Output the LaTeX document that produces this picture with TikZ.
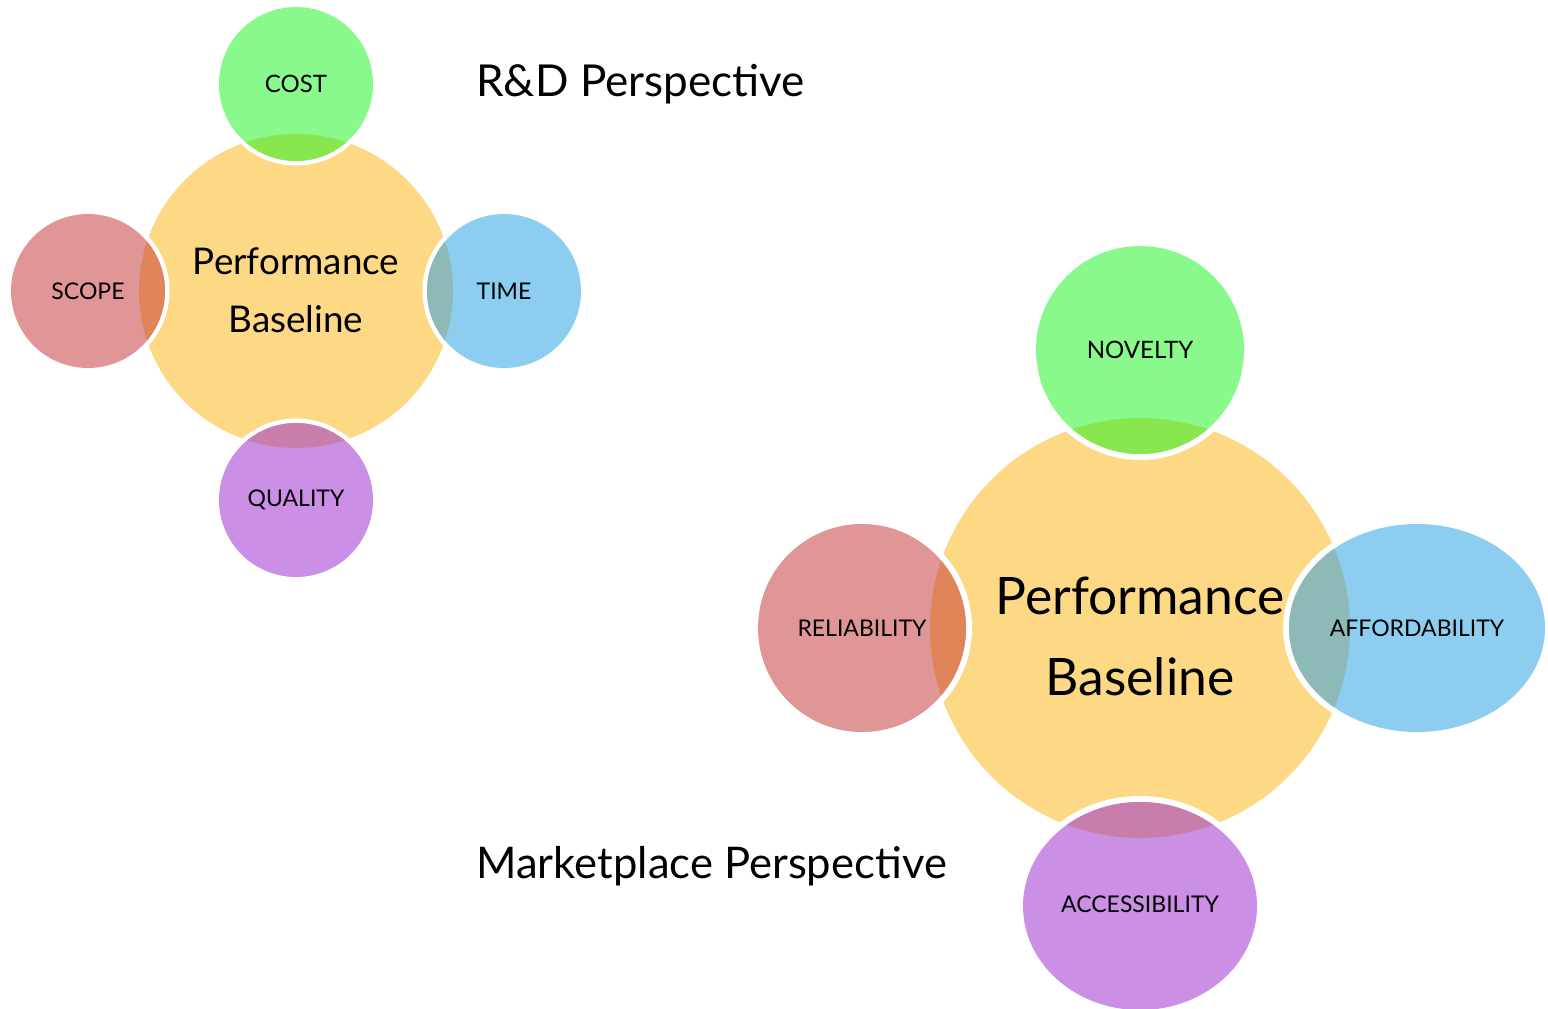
\documentclass[tikz,border=0pt]{standalone}
\usepackage{fontspec}
\setmainfont{Lato}
\definecolor{cYel}{HTML}{FDD985}
\definecolor{cGrn}{HTML}{89F98B}
\definecolor{cGrnO}{HTML}{88E64F}
\definecolor{cRed}{HTML}{E09696}
\definecolor{cRedO}{HTML}{E0845A}
\definecolor{cBlu}{HTML}{8CCDF0}
\definecolor{cBluO}{HTML}{8DBAB6}
\definecolor{cPur}{HTML}{CB90E6}
\definecolor{cPurO}{HTML}{C97DAB}
% #1 cx, #2 cy, #3 rx, #4 ry, #5 fill, #6 overlap colour, #7 ring, #8 yellow cx, #9 yellow cy, radius via \yr
\newcommand{\mysat}[9]{%
  \fill[white] (#1,#2) ellipse [x radius={#3+#7}, y radius={#4+#7}];
  \fill[#5] (#1,#2) ellipse [x radius=#3, y radius=#4];
  \begin{scope}
    \clip (#8,#9) circle [radius=\yr];
    \fill[#6] (#1,#2) ellipse [x radius=#3, y radius=#4];
  \end{scope}}
\tikzset{
  lbl/.style={font=\fontsize{11.5}{14}\selectfont, inner sep=0pt},
  lblw/.style={font=\fontsize{12}{14}\selectfont, inner sep=0pt},
  pbsmall/.style={font=\fontsize{18.4}{22}\selectfont, anchor=base, inner sep=0pt},
  pbbig/.style={font=\fontsize{25.8}{30}\selectfont, anchor=base, inner sep=0pt},
  title/.style={font=\fontsize{22}{26}\selectfont, anchor=base west, inner sep=0pt}
}
\begin{document}
\begin{tikzpicture}[x=0.5pt,y=-0.5pt]
\useasboundingbox (0,0) rectangle (1548,1008);
% ---------- left cluster ----------
\def\yr{157}
\fill[cYel] (296,291) circle [radius=157];
\mysat{296}{84}{77}{77}{cGrn}{cGrnO}{4.5}{296}{291}
\mysat{88}{291}{77}{77}{cRed}{cRedO}{4.5}{296}{291}
\mysat{504}{291}{77}{77}{cBlu}{cBluO}{4.5}{296}{291}
\mysat{296}{500}{77}{77}{cPur}{cPurO}{4.5}{296}{291}
\node[lblw] (cost) at (296,84) {COST};
\node[lbl] (scope) at (88,291) {SCOPE};
\node[lbl] (time) at (504,291) {TIME};
\node[lbl] (quality) at (296,500) {QUALITY};
\node[pbsmall] (pbl1) at (296,274) {Performance};
\node[pbsmall] (pbl2) at (296,332) {Baseline};
% ---------- right cluster ----------
\def\yr{210}
\fill[cYel] (1140,628) circle [radius=210];
\mysat{1140}{350}{104}{104}{cGrn}{cGrnO}{6}{1140}{628}
\mysat{862}{628}{104}{104}{cRed}{cRedO}{6}{1140}{628}
\mysat{1417}{628}{128}{104}{cBlu}{cBluO}{6}{1140}{628}
\mysat{1140}{906}{117}{104}{cPur}{cPurO}{6}{1140}{628}
\node[lblw] (novelty) at (1140,350) {NOVELTY};
\node[lbl] (reliability) at (862,628) {RELIABILITY};
\node[lbl] (afford) at (1417,628) {AFFORDABILITY};
\node[lbl] (access) at (1140,904) {ACCESSIBILITY};
\node[pbbig] (pbr1) at (1140,614) {Performance};
\node[pbbig] (pbr2) at (1140,695) {Baseline};
% ---------- titles ----------
\node[title] (rd) at (476,96) {R\&D Perspective};
\node[title, font=\fontsize{21.8}{26}\selectfont] (mk) at (476,878) {Marketplace Perspective};
\end{tikzpicture}
\end{document}
